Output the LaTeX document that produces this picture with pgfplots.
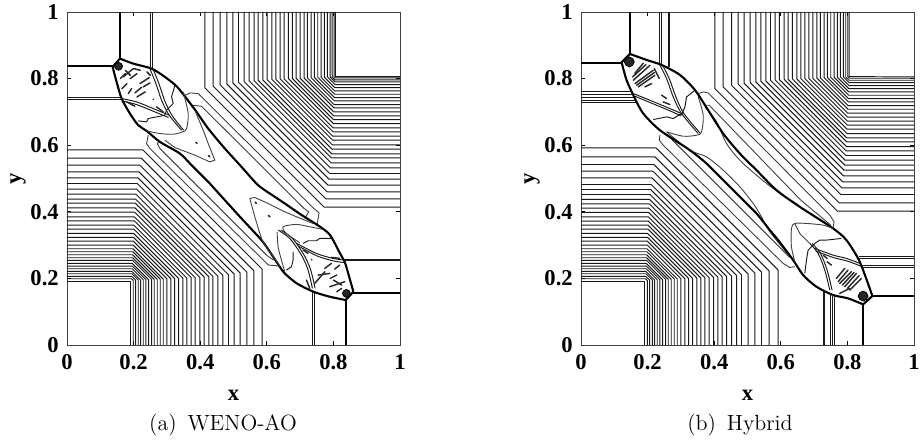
\documentclass[border=0pt]{standalone}
\usepackage{fontspec}
\usepackage{pgfplots}
\pgfplotsset{compat=1.18}
\newfontfamily\tickfont{Liberation Serif}
\tikzset{
  c/.style={black!90,line width=0.48pt,line join=round,mark=none},
  s/.style={black,line width=1.05pt,line join=round,mark=none},
  a/.style={s,smooth,tension=0.45},
  m/.style={black!75,line width=0.45pt,line join=round,mark=none},
  d/.style={black!85,line width=0.72pt,line cap=round,mark=none},
  b/.style={black,fill=black!85,line width=0.4pt,mark=none},
}
\pgfplotsset{panel/.style={
  scale only axis,width=166.5pt,height=166.5pt,anchor=south west,
  xmin=0,xmax=1,ymin=0,ymax=1,
  xtick={0,0.2,0.4,0.6,0.8,1},ytick={0,0.2,0.4,0.6,0.8,1},
  tick align=inside,major tick length=1.8pt,
  tick style={black,line width=0.4pt},
  axis line style={black!75,line width=0.45pt},
  /pgf/number format/assume math mode=true,
  tick label style={font=\tickfont\bfseries\fontsize{11.3}{13}\selectfont},
  xticklabel style={yshift=-1.2pt},
  yticklabel style={xshift=-0.6pt},
  xlabel={x},ylabel={y},
  label style={font=\tickfont\bfseries\fontsize{11.3}{13}\selectfont},
  xlabel style={at={(axis description cs:0.5,-0.15)},anchor=center},
  ylabel style={at={(axis description cs:-0.147,0.5)},anchor=center},
}}
\begin{document}
\begin{tikzpicture}
\path[use as bounding box] (0,0) rectangle (460pt,221.5pt);

% ---------- (a) WENO-AO ----------
\begin{axis}[panel,at={(33.5pt,49pt)}]
% upper right family
\addplot[c] coordinates {(.414,1)(.414,.772)(.772,.414)(1,.414)};
\addplot[c] coordinates {(.439,1)(.439,.777)(.777,.439)(1,.439)};
\addplot[c] coordinates {(.460,1)(.460,.781)(.781,.460)(1,.460)};
\addplot[c] coordinates {(.480,1)(.480,.784)(.784,.480)(1,.480)};
\addplot[c] coordinates {(.498,1)(.498,.787)(.787,.498)(1,.498)};
\addplot[c] coordinates {(.515,1)(.515,.789)(.789,.515)(1,.515)};
\addplot[c] coordinates {(.532,1)(.532,.791)(.791,.532)(1,.532)};
\addplot[c] coordinates {(.547,1)(.547,.793)(.793,.547)(1,.547)};
\addplot[c] coordinates {(.562,1)(.562,.794)(.794,.562)(1,.562)};
\addplot[c] coordinates {(.574,1)(.574,.795)(.795,.574)(1,.574)};
\addplot[c] coordinates {(.588,1)(.588,.796)(.796,.588)(1,.588)};
\addplot[c] coordinates {(.601,1)(.601,.797)(.797,.601)(1,.601)};
\addplot[c] coordinates {(.615,1)(.615,.798)(.798,.615)(1,.615)};
\addplot[c] coordinates {(.627,1)(.627,.798)(.798,.627)(1,.627)};
\addplot[c] coordinates {(.640,1)(.640,.799)(.799,.640)(1,.640)};
\addplot[c] coordinates {(.652,1)(.652,.799)(.799,.652)(1,.652)};
\addplot[c] coordinates {(.665,1)(.665,.800)(.800,.665)(1,.665)};
\addplot[c] coordinates {(.677,1)(.677,.800)(.800,.677)(1,.677)};
\addplot[c] coordinates {(.688,1)(.688,.801)(.801,.688)(1,.688)};
\addplot[c] coordinates {(.700,1)(.700,.801)(.801,.700)(1,.700)};
\addplot[c] coordinates {(.712,1)(.712,.802)(.802,.712)(1,.712)};
\addplot[c] coordinates {(.722,1)(.722,.802)(.802,.722)(1,.722)};
\addplot[c] coordinates {(.733,1)(.733,.803)(.803,.733)(1,.733)};
\addplot[c] coordinates {(.743,1)(.743,.803)(.803,.743)(1,.743)};
\addplot[c] coordinates {(.753,1)(.753,.804)(.804,.753)(1,.753)};
\addplot[c] coordinates {(.763,1)(.763,.804)(.804,.763)(1,.763)};
\addplot[c] coordinates {(.773,1)(.773,.804)(.804,.773)(1,.773)};
\addplot[c] coordinates {(.782,1)(.782,.805)(.805,.782)(1,.782)};
\addplot[c] coordinates {(.790,1)(.790,.805)(.805,.790)(1,.790)};
\addplot[c] coordinates {(.796,1)(.796,.805)(.805,.796)(1,.796)};
\addplot[c] coordinates {(.802,1)(.802,.806)(.806,.802)(1,.802)};
\addplot[c] coordinates {(.806,1)(.806,.806)(1,.806)};
% lower left family
\addplot[c] coordinates {(.586,0)(.586,.228)(.228,.586)(0,.586)};
\addplot[c] coordinates {(.561,0)(.561,.223)(.223,.561)(0,.561)};
\addplot[c] coordinates {(.540,0)(.540,.219)(.219,.540)(0,.540)};
\addplot[c] coordinates {(.520,0)(.520,.216)(.216,.520)(0,.520)};
\addplot[c] coordinates {(.502,0)(.502,.213)(.213,.502)(0,.502)};
\addplot[c] coordinates {(.485,0)(.485,.211)(.211,.485)(0,.485)};
\addplot[c] coordinates {(.468,0)(.468,.209)(.209,.468)(0,.468)};
\addplot[c] coordinates {(.453,0)(.453,.207)(.207,.453)(0,.453)};
\addplot[c] coordinates {(.438,0)(.438,.206)(.206,.438)(0,.438)};
\addplot[c] coordinates {(.426,0)(.426,.205)(.205,.426)(0,.426)};
\addplot[c] coordinates {(.412,0)(.412,.204)(.204,.412)(0,.412)};
\addplot[c] coordinates {(.399,0)(.399,.203)(.203,.399)(0,.399)};
\addplot[c] coordinates {(.385,0)(.385,.202)(.202,.385)(0,.385)};
\addplot[c] coordinates {(.373,0)(.373,.202)(.202,.373)(0,.373)};
\addplot[c] coordinates {(.360,0)(.360,.201)(.201,.360)(0,.360)};
\addplot[c] coordinates {(.348,0)(.348,.201)(.201,.348)(0,.348)};
\addplot[c] coordinates {(.335,0)(.335,.200)(.200,.335)(0,.335)};
\addplot[c] coordinates {(.323,0)(.323,.200)(.200,.323)(0,.323)};
\addplot[c] coordinates {(.312,0)(.312,.199)(.199,.312)(0,.312)};
\addplot[c] coordinates {(.300,0)(.300,.199)(.199,.300)(0,.300)};
\addplot[c] coordinates {(.289,0)(.289,.198)(.198,.289)(0,.289)};
\addplot[c] coordinates {(.280,0)(.280,.198)(.198,.280)(0,.280)};
\addplot[c] coordinates {(.271,0)(.271,.197)(.197,.271)(0,.271)};
\addplot[c] coordinates {(.262,0)(.262,.197)(.197,.262)(0,.262)};
\addplot[c] coordinates {(.254,0)(.254,.197)(.197,.254)(0,.254)};
\addplot[c] coordinates {(.245,0)(.245,.196)(.196,.245)(0,.245)};
\addplot[c] coordinates {(.237,0)(.237,.196)(.196,.237)(0,.237)};
\addplot[c] coordinates {(.229,0)(.229,.196)(.196,.229)(0,.229)};
\addplot[c] coordinates {(.221,0)(.221,.195)(.195,.221)(0,.221)};
\addplot[c] coordinates {(.214,0)(.214,.195)(.195,.214)(0,.214)};
\addplot[c] coordinates {(.206,0)(.206,.195)(.195,.206)(0,.206)};
\addplot[c] coordinates {(.199,0)(.199,.194)(.194,.199)(0,.199)};
\addplot[c] coordinates {(.192,0)(.192,.192)(0,.192)};
% rounded outer contours
\addplot[m] coordinates {(.354,.75)(.37,.757)(.394,.755)(.741,.41)(.757,.397)(.751,.36)};
\addplot[m] coordinates {(.375,.72)(.404,.717)(.712,.41)(.726,.40)(.714,.38)};
\addplot[m] coordinates {(.244,.63)(.239,.605)(.249,.59)(.605,.24)(.63,.238)(.642,.235)};
\addplot[m] coordinates {(.279,.612)(.271,.605)(.279,.59)(.599,.27)(.62,.255)};
% thick shock front, upper and lower arc
\addplot[a] coordinates {(.159,.860)(.199,.845)(.254,.830)(.294,.805)(.329,.777)(.359,.74)(.389,.70)(.424,.65)(.474,.59)(.524,.535)(.574,.48)(.624,.445)(.654,.425)(.705,.39)(.76,.355)(.79,.33)(.82,.275)(.834,.25)(.86,.16)};
\addplot[a] coordinates {(.137,.835)(.149,.79)(.164,.74)(.189,.695)(.214,.66)(.239,.643)(.279,.61)(.339,.575)(.374,.54)(.424,.49)(.474,.435)(.524,.38)(.584,.315)(.609,.28)(.639,.235)(.654,.215)(.69,.185)(.74,.16)(.789,.145)(.837,.135)};
\addplot[s] coordinates {(.137,.835)(.159,.860)};
\addplot[s] coordinates {(.837,.135)(.86,.16)};
% straight slip lines
\addplot[s] coordinates {(.159,1)(.159,.860)};
\addplot[s] coordinates {(0,.837)(.137,.837)};
\addplot[s] coordinates {(.837,0)(.837,.135)};
\addplot[s] coordinates {(.86,.157)(1,.157)};
\addplot[c] coordinates {(.252,1)(.252,.832)};
\addplot[c] coordinates {(.257,1)(.257,.830)};
\addplot[c] coordinates {(0,.743)(.164,.743)};
\addplot[c] coordinates {(0,.738)(.164,.738)};
\addplot[c] coordinates {(.737,0)(.737,.16)};
\addplot[c] coordinates {(.743,0)(.743,.16)};
\addplot[c] coordinates {(.832,.258)(1,.258)};
\addplot[c] coordinates {(.832,.253)(1,.253)};
% inner contours, upper lobe
\addplot[c,smooth] coordinates {(.249,.83)(.267,.785)(.284,.735)(.307,.69)(.344,.645)};
\addplot[c,smooth] coordinates {(.258,.83)(.276,.785)(.293,.735)(.315,.69)(.350,.645)};
\addplot[c,smooth] coordinates {(.164,.74)(.209,.73)(.259,.71)(.307,.69)};
\addplot[c,smooth] coordinates {(.169,.732)(.209,.722)(.259,.702)(.305,.683)};
\addplot[c] coordinates {(.324,.78)(.314,.745)(.319,.725)(.299,.705)(.294,.69)};
\addplot[c] coordinates {(.214,.673)(.239,.67)(.244,.68)(.269,.685)(.294,.69)};
\addplot[m,smooth] coordinates {(.349,.76)(.364,.695)(.359,.65)(.347,.64)(.319,.633)(.279,.635)(.239,.643)};
\addplot[m] coordinates {(.384,.705)(.409,.645)(.424,.605)(.444,.555)(.429,.55)(.384,.57)(.324,.593)(.294,.615)};
% inner contours, lower lobe
\addplot[c,smooth] coordinates {(.634,.345)(.669,.32)(.704,.27)(.724,.225)(.737,.17)};
\addplot[c,smooth] coordinates {(.642,.345)(.677,.32)(.712,.27)(.732,.225)(.745,.17)};
\addplot[c,smooth] coordinates {(.69,.305)(.749,.275)(.799,.26)(.834,.255)};
\addplot[c,smooth] coordinates {(.695,.297)(.752,.267)(.802,.252)(.838,.247)};
\addplot[c] coordinates {(.794,.32)(.759,.32)(.749,.313)(.724,.313)(.709,.305)};
\addplot[c] coordinates {(.679,.28)(.679,.255)(.674,.235)(.659,.225)};
\addplot[m,smooth] coordinates {(.769,.347)(.729,.355)(.689,.362)(.649,.355)(.659,.335)(.699,.307)};
\addplot[m,smooth] coordinates {(.631,.34)(.634,.295)(.644,.255)(.654,.22)};
\addplot[m] coordinates {(.739,.365)(.689,.385)(.654,.40)(.604,.425)(.564,.443)(.549,.44)(.564,.385)(.579,.335)(.586,.315)(.604,.285)(.624,.26)(.639,.235)};
% small islands
\addplot[b] coordinates {(.142,.837)(.147,.845)(.155,.849)(.163,.845)(.167,.837)(.163,.829)(.155,.825)(.147,.829)(.142,.837)};
\addplot[b] coordinates {(.827,.155)(.831,.163)(.839,.167)(.847,.163)(.851,.155)(.847,.147)(.839,.143)(.831,.147)(.827,.155)};
\addplot[d] coordinates {(.169,.805)(.199,.83)};
\addplot[d] coordinates {(.175,.825)(.19,.81)};
\addplot[d] coordinates {(.16,.80)(.175,.815)};
\addplot[d] coordinates {(.19,.80)(.21,.815)};
\addplot[d] coordinates {(.20,.83)(.22,.825)};
\addplot[d] coordinates {(.165,.77)(.18,.785)};
\addplot[d] coordinates {(.204,.757)(.224,.774)};
\addplot[d] coordinates {(.184,.755)(.194,.77)};
\addplot[d] coordinates {(.21,.745)(.235,.76)};
\addplot[d] coordinates {(.219,.785)(.247,.803)};
\addplot[d] coordinates {(.229,.775)(.249,.787)};
\addplot[d] coordinates {(.24,.82)(.25,.81)};
\addplot[d] coordinates {(.269,.715)(.289,.70)};
\addplot[d] coordinates {(.179,.73)(.204,.717)};
\addplot[d] coordinates {(.259,.737)(.260,.738)};
\addplot[d] coordinates {(.387,.609)(.391,.605)};
\addplot[d] coordinates {(.425,.569)(.429,.565)};
\addplot[d] coordinates {(.744,.185)(.774,.22)};
\addplot[d] coordinates {(.754,.21)(.789,.215)};
\addplot[d] coordinates {(.774,.23)(.794,.245)};
\addplot[d] coordinates {(.804,.228)(.819,.24)};
\addplot[d] coordinates {(.789,.175)(.834,.19)};
\addplot[d] coordinates {(.80,.195)(.825,.18)};
\addplot[d] coordinates {(.81,.16)(.825,.17)};
\addplot[d] coordinates {(.79,.20)(.81,.21)};
\addplot[d] coordinates {(.709,.285)(.724,.275)};
\addplot[d] coordinates {(.734,.257)(.735,.256)};
\addplot[d] coordinates {(.565,.429)(.569,.425)};
\addplot[d] coordinates {(.605,.389)(.609,.385)};
\addplot[d] coordinates {(.794,.263)(.819,.26)};
\addplot[d] coordinates {(.719,.195)(.729,.17)};
\end{axis}

% ---------- (b) Hybrid ----------
\begin{axis}[panel,at={(290.5pt,49pt)}]
% upper right family
\addplot[c] coordinates {(.402,1)(.402,.770)(.770,.402)(1,.402)};
\addplot[c] coordinates {(.427,1)(.427,.775)(.775,.427)(1,.427)};
\addplot[c] coordinates {(.452,1)(.452,.780)(.780,.452)(1,.452)};
\addplot[c] coordinates {(.472,1)(.472,.783)(.783,.472)(1,.472)};
\addplot[c] coordinates {(.490,1)(.490,.786)(.786,.490)(1,.490)};
\addplot[c] coordinates {(.508,1)(.508,.788)(.788,.508)(1,.508)};
\addplot[c] coordinates {(.525,1)(.525,.790)(.790,.525)(1,.525)};
\addplot[c] coordinates {(.540,1)(.540,.792)(.792,.540)(1,.540)};
\addplot[c] coordinates {(.555,1)(.555,.793)(.793,.555)(1,.555)};
\addplot[c] coordinates {(.569,1)(.569,.795)(.795,.569)(1,.569)};
\addplot[c] coordinates {(.583,1)(.583,.796)(.796,.583)(1,.583)};
\addplot[c] coordinates {(.596,1)(.596,.797)(.797,.596)(1,.596)};
\addplot[c] coordinates {(.610,1)(.610,.798)(.798,.610)(1,.610)};
\addplot[c] coordinates {(.622,1)(.622,.798)(.798,.622)(1,.622)};
\addplot[c] coordinates {(.635,1)(.635,.799)(.799,.635)(1,.635)};
\addplot[c] coordinates {(.648,1)(.648,.799)(.799,.648)(1,.648)};
\addplot[c] coordinates {(.660,1)(.660,.800)(.800,.660)(1,.660)};
\addplot[c] coordinates {(.672,1)(.672,.800)(.800,.672)(1,.672)};
\addplot[c] coordinates {(.684,1)(.684,.801)(.801,.684)(1,.684)};
\addplot[c] coordinates {(.696,1)(.696,.801)(.801,.696)(1,.696)};
\addplot[c] coordinates {(.708,1)(.708,.802)(.802,.708)(1,.708)};
\addplot[c] coordinates {(.719,1)(.719,.802)(.802,.719)(1,.719)};
\addplot[c] coordinates {(.730,1)(.730,.803)(.803,.730)(1,.730)};
\addplot[c] coordinates {(.740,1)(.740,.803)(.803,.740)(1,.740)};
\addplot[c] coordinates {(.750,1)(.750,.804)(.804,.750)(1,.750)};
\addplot[c] coordinates {(.760,1)(.760,.804)(.804,.760)(1,.760)};
\addplot[c] coordinates {(.770,1)(.770,.804)(.804,.770)(1,.770)};
\addplot[c] coordinates {(.779,1)(.779,.805)(.805,.779)(1,.779)};
\addplot[c] coordinates {(.788,1)(.788,.805)(.805,.788)(1,.788)};
\addplot[c] coordinates {(.795,1)(.795,.805)(.805,.795)(1,.795)};
\addplot[c] coordinates {(.801,1)(.801,.806)(.806,.801)(1,.801)};
\addplot[c] coordinates {(.805,1)(.805,.806)(1,.805)};
% lower left family
\addplot[c] coordinates {(.592,0)(.592,.225)(.225,.592)(0,.592)};
\addplot[c] coordinates {(.565,0)(.565,.222)(.222,.565)(0,.565)};
\addplot[c] coordinates {(.542,0)(.542,.219)(.219,.542)(0,.542)};
\addplot[c] coordinates {(.522,0)(.522,.216)(.216,.522)(0,.522)};
\addplot[c] coordinates {(.502,0)(.502,.213)(.213,.502)(0,.502)};
\addplot[c] coordinates {(.482,0)(.482,.211)(.211,.482)(0,.482)};
\addplot[c] coordinates {(.467,0)(.467,.209)(.209,.467)(0,.467)};
\addplot[c] coordinates {(.452,0)(.452,.207)(.207,.452)(0,.452)};
\addplot[c] coordinates {(.437,0)(.437,.206)(.206,.437)(0,.437)};
\addplot[c] coordinates {(.424,0)(.424,.205)(.205,.424)(0,.424)};
\addplot[c] coordinates {(.411,0)(.411,.204)(.204,.411)(0,.411)};
\addplot[c] coordinates {(.398,0)(.398,.203)(.203,.398)(0,.398)};
\addplot[c] coordinates {(.385,0)(.385,.202)(.202,.385)(0,.385)};
\addplot[c] coordinates {(.372,0)(.372,.202)(.202,.372)(0,.372)};
\addplot[c] coordinates {(.360,0)(.360,.201)(.201,.360)(0,.360)};
\addplot[c] coordinates {(.348,0)(.348,.201)(.201,.348)(0,.348)};
\addplot[c] coordinates {(.335,0)(.335,.200)(.200,.335)(0,.335)};
\addplot[c] coordinates {(.323,0)(.323,.200)(.200,.323)(0,.323)};
\addplot[c] coordinates {(.312,0)(.312,.199)(.199,.312)(0,.312)};
\addplot[c] coordinates {(.300,0)(.300,.199)(.199,.300)(0,.300)};
\addplot[c] coordinates {(.289,0)(.289,.198)(.198,.289)(0,.289)};
\addplot[c] coordinates {(.280,0)(.280,.198)(.198,.280)(0,.280)};
\addplot[c] coordinates {(.271,0)(.271,.197)(.197,.271)(0,.271)};
\addplot[c] coordinates {(.262,0)(.262,.197)(.197,.262)(0,.262)};
\addplot[c] coordinates {(.254,0)(.254,.197)(.197,.254)(0,.254)};
\addplot[c] coordinates {(.245,0)(.245,.196)(.196,.245)(0,.245)};
\addplot[c] coordinates {(.237,0)(.237,.196)(.196,.237)(0,.237)};
\addplot[c] coordinates {(.229,0)(.229,.196)(.196,.229)(0,.229)};
\addplot[c] coordinates {(.221,0)(.221,.195)(.195,.221)(0,.221)};
\addplot[c] coordinates {(.214,0)(.214,.195)(.195,.214)(0,.214)};
\addplot[c] coordinates {(.206,0)(.206,.195)(.195,.206)(0,.206)};
\addplot[c] coordinates {(.199,0)(.199,.194)(.194,.199)(0,.199)};
\addplot[c] coordinates {(.192,0)(.192,.192)(0,.192)};
% rounded outer contours
\addplot[m] coordinates {(.352,.755)(.367,.76)(.382,.757)(.747,.39)(.76,.37)(.757,.352)};
\addplot[m] coordinates {(.372,.72)(.385,.72)(.66,.435)(.72,.385)(.75,.36)};
\addplot[m,smooth] coordinates {(.372,.715)(.407,.67)(.437,.605)(.477,.555)(.527,.51)(.577,.47)(.657,.415)(.752,.355)};
\addplot[m] coordinates {(.237,.63)(.235,.615)(.247,.6)(.607,.245)(.627,.233)(.642,.235)};
\addplot[m] coordinates {(.267,.625)(.275,.615)(.627,.263)};
\addplot[m,smooth] coordinates {(.257,.64)(.327,.585)(.377,.565)(.427,.525)(.477,.475)(.517,.425)(.542,.385)(.567,.34)(.62,.275)};
% thick shock front, upper and lower arc
\addplot[a] coordinates {(.147,.874)(.197,.856)(.242,.841)(.297,.811)(.342,.766)(.382,.705)(.427,.635)(.477,.575)(.527,.525)(.587,.465)(.657,.415)(.757,.35)(.797,.315)(.837,.25)(.875,.147)};
\addplot[a] coordinates {(.122,.849)(.137,.795)(.162,.74)(.187,.695)(.237,.645)(.327,.585)(.377,.545)(.427,.495)(.477,.445)(.527,.395)(.567,.345)(.592,.315)(.637,.255)(.667,.21)(.707,.175)(.757,.15)(.802,.14)(.847,.122)};
\addplot[s] coordinates {(.122,.849)(.147,.874)};
\addplot[s] coordinates {(.847,.122)(.875,.147)};
% straight slip lines
\addplot[s] coordinates {(.147,1)(.147,.874)};
\addplot[s] coordinates {(0,.848)(.122,.848)};
\addplot[s] coordinates {(.847,0)(.847,.122)};
\addplot[s] coordinates {(.875,.147)(1,.147)};
\addplot[c] coordinates {(.237,1)(.237,.846)};
\addplot[c] coordinates {(.242,1)(.242,.844)};
\addplot[c] coordinates {(.262,1)(.262,.836)};
\addplot[c] coordinates {(.267,1)(.267,.834)};
\addplot[c] coordinates {(0,.761)(.157,.761)};
\addplot[c] coordinates {(0,.753)(.157,.753)};
\addplot[c] coordinates {(0,.744)(.16,.744)};
\addplot[c] coordinates {(0,.734)(.165,.734)};
\addplot[c] coordinates {(0,.729)(.168,.729)};
\addplot[c] coordinates {(.727,0)(.727,.165)};
\addplot[c] coordinates {(.732,0)(.732,.165)};
\addplot[c] coordinates {(.749,0)(.749,.155)};
\addplot[c] coordinates {(.755,0)(.755,.15)};
\addplot[c] coordinates {(.76,0)(.76,.15)};
\addplot[c] coordinates {(.835,.265)(1,.265)};
\addplot[c] coordinates {(.835,.26)(1,.26)};
\addplot[c] coordinates {(.84,.24)(1,.24)};
\addplot[c] coordinates {(.842,.233)(1,.233)};
% inner contours, upper lobe
\addplot[c,smooth] coordinates {(.237,.84)(.257,.80)(.277,.745)(.302,.695)(.352,.635)};
\addplot[c,smooth] coordinates {(.245,.84)(.265,.80)(.285,.745)(.309,.695)(.359,.635)};
\addplot[c,smooth] coordinates {(.157,.755)(.207,.735)(.267,.71)(.302,.695)};
\addplot[c,smooth] coordinates {(.162,.747)(.21,.727)(.27,.702)(.3,.688)};
\addplot[c] coordinates {(.342,.765)(.317,.745)(.312,.715)(.302,.69)};
\addplot[c] coordinates {(.217,.677)(.257,.685)(.277,.68)(.302,.695)};
\addplot[m,smooth] coordinates {(.352,.745)(.367,.69)(.362,.64)(.347,.63)(.307,.627)(.257,.64)};
% inner contours, lower lobe
\addplot[m,smooth] coordinates {(.757,.35)(.727,.36)(.677,.365)(.642,.365)(.632,.35)(.632,.295)(.642,.25)};
\addplot[m] coordinates {(.642,.365)(.657,.335)(.687,.305)};
\addplot[c] coordinates {(.782,.32)(.737,.315)(.717,.315)(.702,.305)(.682,.285)(.677,.255)(.672,.215)};
\addplot[c,smooth] coordinates {(.687,.305)(.712,.275)(.732,.225)(.747,.165)};
\addplot[c,smooth] coordinates {(.694,.305)(.719,.275)(.739,.225)(.754,.165)};
\addplot[c,smooth] coordinates {(.702,.29)(.757,.27)(.797,.26)(.837,.245)};
\addplot[c,smooth] coordinates {(.705,.282)(.76,.262)(.8,.252)(.84,.237)};
% small islands and the dark patches at both tips
\addplot[b] coordinates {(.130,.850)(.135,.860)(.145,.865)(.155,.860)(.160,.850)(.155,.840)(.145,.835)(.135,.840)(.130,.850)};
\addplot[b] coordinates {(.832,.147)(.837,.157)(.847,.162)(.857,.157)(.862,.147)(.857,.137)(.847,.132)(.837,.137)(.832,.147)};
\addplot[d] coordinates {(.162,.816)(.187,.846)};
\addplot[d] coordinates {(.157,.795)(.207,.84)};
\addplot[d] coordinates {(.155,.805)(.195,.842)};
\addplot[d] coordinates {(.162,.785)(.217,.825)};
\addplot[d] coordinates {(.167,.78)(.22,.818)};
\addplot[d] coordinates {(.172,.775)(.222,.81)};
\addplot[d] coordinates {(.192,.775)(.212,.785)};
\addplot[d] coordinates {(.22,.83)(.235,.80)};
\addplot[d] coordinates {(.242,.75)(.257,.74)};
\addplot[d] coordinates {(.247,.73)(.267,.722)};
\addplot[d] coordinates {(.767,.2)(.792,.23)};
\addplot[d] coordinates {(.772,.19)(.802,.225)};
\addplot[d] coordinates {(.777,.185)(.812,.22)};
\addplot[d] coordinates {(.785,.18)(.82,.218)};
\addplot[d] coordinates {(.792,.175)(.827,.215)};
\addplot[d] coordinates {(.80,.17)(.835,.208)};
\addplot[d] coordinates {(.807,.165)(.842,.2)};
\addplot[d] coordinates {(.777,.155)(.807,.17)};
\addplot[d] coordinates {(.727,.27)(.739,.26)};
\addplot[d] coordinates {(.739,.25)(.752,.24)};
\end{axis}

\node[font=\fontsize{11}{13}\selectfont,anchor=center] at (111.5pt,9pt) {(a)\, WENO-AO};
\node[font=\fontsize{11}{13}\selectfont,anchor=center] at (370pt,9pt) {(b)\, Hybrid};
\end{tikzpicture}
\end{document}
